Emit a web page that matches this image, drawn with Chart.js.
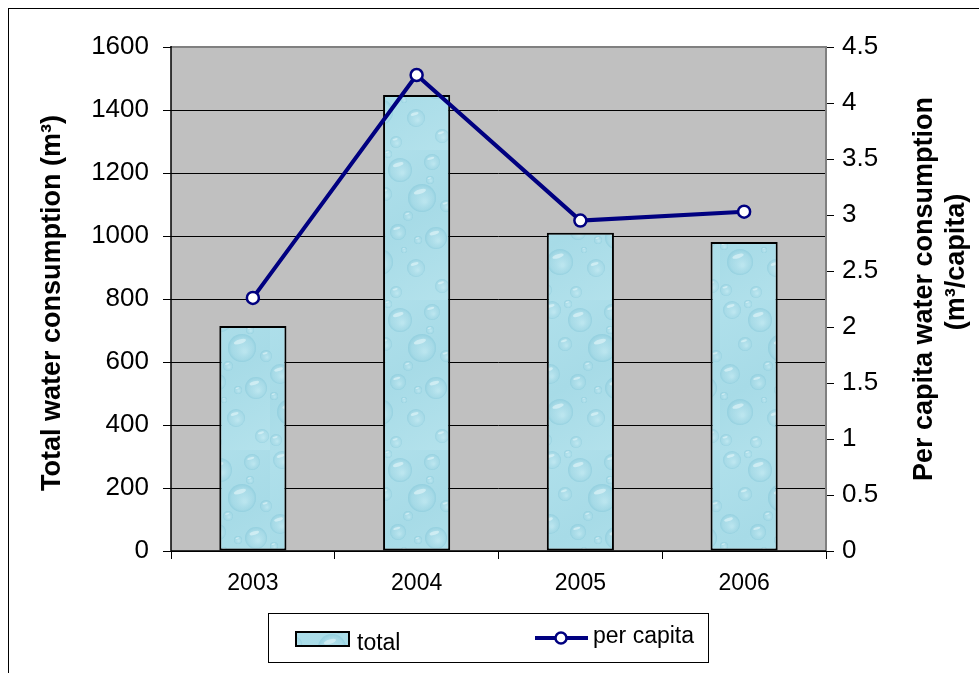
<!DOCTYPE html>
<html>
<head>
<meta charset="utf-8">
<script src="https://cdn.jsdelivr.net/npm/chart.js@4.4.1/dist/chart.umd.min.js"></script>
<style>
  html, body { margin: 0; padding: 0; background: #ffffff; }
  #wrap { width: 979px; height: 673px; }
</style>
</head>
<body>
<div id="wrap"><canvas id="c" width="979" height="673"></canvas></div>
<script>
// Water consumption by year
const years = ['2003', '2004', '2005', '2006'];
const totalConsumption = [714, 1448, 1010, 981];      // m³
const perCapitaConsumption = [2.26, 4.25, 2.95, 3.03]; // m³ per capita
const totalTicks = [0, 200, 400, 600, 800, 1000, 1200, 1400, 1600];
const perCapitaTicks = [0, 0.5, 1, 1.5, 2, 2.5, 3, 3.5, 4, 4.5];

const FONT = 'Liberation Sans, Arial, Helvetica, sans-serif';
const NAVY = '#000080';

// Water-droplet texture used to fill the bars
function makeDropletPattern() {
  const w = 90, h = 150;
  const tile = document.createElement('canvas');
  tile.width = w; tile.height = h;
  const g = tile.getContext('2d');
  const base = g.createLinearGradient(0, 0, w, h);
  base.addColorStop(0, '#b0e0eb');
  base.addColorStop(0.5, '#a7dbe7');
  base.addColorStop(1, '#b4e2ec');
  g.fillStyle = base;
  g.fillRect(0, 0, w, h);
  const drops = [
    [12, 10, 9], [40, 20, 12], [72, 12, 8], [25, 44, 7], [62, 48, 14],
    [10, 74, 10], [38, 82, 8], [76, 88, 11], [20, 112, 13], [56, 118, 9],
    [82, 136, 7], [36, 142, 6], [6, 140, 6], [48, 66, 5], [86, 56, 6],
    [28, 4, 4], [58, 90, 4], [70, 30, 4], [4, 96, 4], [44, 100, 3]
  ];
  for (const [x, y, r] of drops) {
    for (const dx of [-w, 0, w]) {
      for (const dy of [-h, 0, h]) {
        const cx = x + dx, cy = y + dy;
        const rg = g.createRadialGradient(cx + r * 0.2, cy + r * 0.25, r * 0.1, cx, cy, r);
        rg.addColorStop(0, 'rgba(200,236,244,0.55)');
        rg.addColorStop(0.75, 'rgba(160,214,228,0.35)');
        rg.addColorStop(1, 'rgba(120,192,212,0.45)');
        g.fillStyle = rg;
        g.beginPath(); g.arc(cx, cy, r, 0, Math.PI * 2); g.fill();
        g.fillStyle = 'rgba(235,250,252,0.55)';
        g.beginPath();
        g.ellipse(cx - r * 0.15, cy - r * 0.45, r * 0.45, r * 0.16, -0.3, 0, Math.PI * 2);
        g.fill();
      }
    }
  }
  return tile;
}
const tileCanvas = makeDropletPattern();
const ctx0 = document.getElementById('c').getContext('2d');
const dropletFill = ctx0.createPattern(tileCanvas, 'repeat');

// Plot background, frame, axis titles, legend and outer border
const decorations = {
  id: 'decorations',
  beforeDraw(chart) {
    const { ctx, chartArea: a } = chart;
    ctx.save();
    ctx.fillStyle = '#ffffff';
    ctx.fillRect(0, 0, chart.width, chart.height);
    ctx.fillStyle = '#c0c0c0';
    ctx.fillRect(a.left, a.top, a.right - a.left, a.bottom - a.top);
    ctx.restore();
  },
  beforeDatasetsDraw(chart) {
    const { ctx, chartArea: a } = chart;
    ctx.save();
    ctx.strokeStyle = '#808080';
    ctx.lineWidth = 2;
    ctx.beginPath();
    ctx.moveTo(a.left, a.top);
    ctx.lineTo(a.right, a.top);
    ctx.lineTo(a.right, a.bottom);
    ctx.stroke();
    ctx.strokeStyle = '#000000';
    ctx.lineWidth = 1.5;
    ctx.beginPath();
    ctx.moveTo(a.left, a.top - 1);
    ctx.lineTo(a.left, a.bottom);
    ctx.lineTo(a.right, a.bottom);
    ctx.stroke();
    ctx.restore();
  },
  afterDraw(chart) {
    const { ctx } = chart;
    ctx.save();
    ctx.fillStyle = '#000000';
    ctx.font = 'bold 27px ' + FONT;
    ctx.textAlign = 'center';
    ctx.textBaseline = 'alphabetic';
    const vtext = (txt, x, y) => {
      ctx.save();
      ctx.translate(x, y);
      ctx.rotate(-Math.PI / 2);
      ctx.fillText(txt, 0, 0);
      ctx.restore();
    };
    vtext('Total water consumption (m³)', 60, 303);
    vtext('Per capita water consumption', 932, 289);
    vtext('(m³/capita)', 964, 262);

    // legend
    ctx.strokeStyle = '#000000';
    ctx.lineWidth = 1;
    ctx.strokeRect(268.5, 613.5, 440, 49);
    ctx.fillStyle = dropletFill;
    ctx.fillRect(296, 632, 53, 14);
    ctx.lineWidth = 2;
    ctx.strokeRect(296, 632, 53, 14);
    ctx.fillStyle = '#000000';
    ctx.font = '23px ' + FONT;
    ctx.textAlign = 'left';
    ctx.fillText('total', 357, 650);
    ctx.strokeStyle = NAVY;
    ctx.lineWidth = 4;
    ctx.beginPath();
    ctx.moveTo(535, 638);
    ctx.lineTo(588, 638);
    ctx.stroke();
    ctx.fillStyle = '#ffffff';
    ctx.lineWidth = 2.5;
    ctx.beginPath();
    ctx.arc(561, 638, 5.5, 0, Math.PI * 2);
    ctx.fill();
    ctx.stroke();
    ctx.fillStyle = '#000000';
    ctx.fillText('per capita', 593, 643);

    // outer frame
    ctx.strokeStyle = '#000000';
    ctx.lineWidth = 1;
    ctx.strokeRect(8.5, 8.5, 1000, 700);
    ctx.restore();
  }
};

new Chart(ctx0, {
  type: 'bar',
  data: {
    labels: years,
    datasets: [
      {
        type: 'line',
        label: 'per capita',
        data: perCapitaConsumption,
        yAxisID: 'y1',
        order: 0,
        borderColor: NAVY,
        borderWidth: 4,
        tension: 0,
        pointRadius: 6,
        pointBorderWidth: 2.5,
        pointBackgroundColor: '#ffffff',
        pointBorderColor: NAVY,
        fill: false
      },
      {
        type: 'bar',
        label: 'total',
        data: totalConsumption,
        yAxisID: 'y',
        order: 1,
        backgroundColor: dropletFill,
        borderColor: '#000000',
        borderWidth: 2,
        borderSkipped: false,
        barPercentage: 0.41,
        categoryPercentage: 1
      }
    ]
  },
  options: {
    responsive: false,
    animation: false,
    devicePixelRatio: 1,
    layout: { padding: { top: 47, bottom: 62, left: 0, right: 0 } },
    plugins: {
      legend: { display: false },
      tooltip: { enabled: false }
    },
    scales: {
      x: {
        offset: true,
        grid: { offset: true, drawOnChartArea: false, drawTicks: true, tickLength: 8, color: '#000000', lineWidth: 1 },
        border: { display: false },
        ticks: { color: '#000000', font: { family: FONT, size: 23 }, padding: 11 },
        afterFit(s) { s.height = 60; }
      },
      y: {
        position: 'left',
        min: 0, max: 1600,
        afterBuildTicks(s) { s.ticks = totalTicks.map(v => ({ value: v })); },
        grid: { color: '#000000', lineWidth: 1, tickLength: 8, drawTicks: true },
        border: { display: false },
        ticks: { color: '#000000', font: { family: FONT, size: 26 }, padding: 14, callback: v => String(v) },
        afterFit(s) { s.width = 171; }
      },
      y1: {
        position: 'right',
        min: 0, max: 4.5,
        afterBuildTicks(s) { s.ticks = perCapitaTicks.map(v => ({ value: v })); },
        grid: { drawOnChartArea: false, color: '#000000', tickLength: 8, drawTicks: true },
        border: { display: false },
        ticks: { color: '#000000', font: { family: FONT, size: 26 }, padding: 8, callback: v => String(v) },
        afterFit(s) { s.width = 153; }
      }
    }
  },
  plugins: [decorations]
});
</script>
</body>
</html>
